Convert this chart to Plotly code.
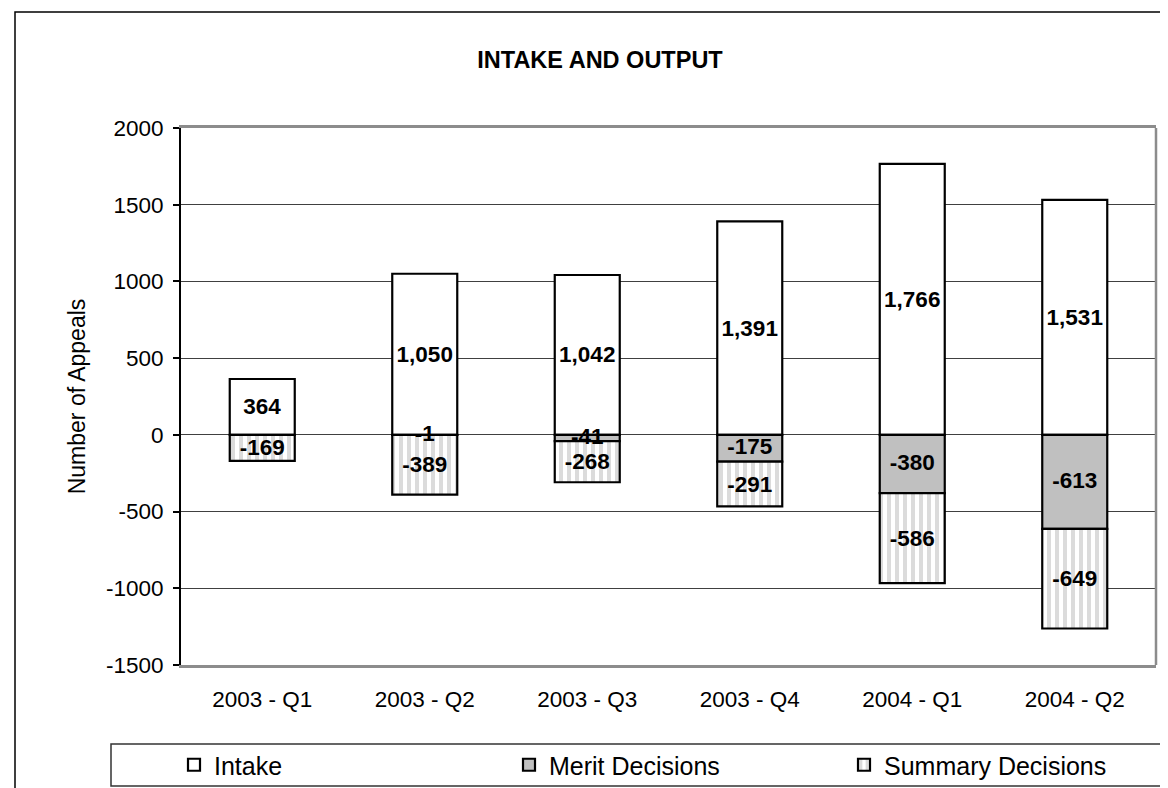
import plotly.graph_objects as go

categories = ["2003 - Q1", "2003 - Q2", "2003 - Q3", "2003 - Q4", "2004 - Q1", "2004 - Q2"]
intake = [364, 1050, 1042, 1391, 1766, 1531]
merit = [None, -1, -41, -175, -380, -613]
summary = [-169, -389, -268, -291, -586, -649]
y_ticks = [-1500, -1000, -500, 0, 500, 1000, 1500, 2000]

FONT = "Liberation Sans, Arial, sans-serif"
W, H = 1168, 788
PL, PR, PT, PB = 173, 1148, 120, 657


def fmt(vals):
    return ["" if v is None else f"{v:,}" for v in vals]


def px_x(x):
    return (x - PL) / (PR - PL)


def px_y(y):
    return (PB - y) / (PB - PT)


label_font = dict(family=FONT, size=22.5, color="black", weight="bold")
common = dict(
    textposition="inside",
    insidetextanchor="middle",
    textangle=0,
    constraintext="none",
    textfont=label_font,
    cliponaxis=False,
)

fig = go.Figure()
fig.add_trace(go.Bar(
    name="Intake", x=categories, y=intake, text=fmt(intake),
    marker=dict(color="white", line=dict(color="black", width=2.2)),
    **common,
))
fig.add_trace(go.Bar(
    name="Merit Decisions", x=categories, y=merit,
    marker=dict(color="#c0c0c0", line=dict(color="black", width=2.2)),
))
fig.add_trace(go.Bar(
    name="Summary Decisions", x=categories, y=summary, text=fmt(summary),
    marker=dict(
        color="white",
        line=dict(color="black", width=2.2),
        pattern=dict(shape="|", fgcolor="#b8b8b8", bgcolor="white", size=8, solidity=0.5),
    ),
    **common,
))
# merit labels drawn on top of everything (centred in each merit segment)
merit_mid = [None if v is None else v / 2 for v in merit]
fig.add_trace(go.Scatter(
    x=categories, y=merit_mid, text=fmt(merit), mode="text",
    textposition="middle center", textfont=label_font,
    showlegend=False, hoverinfo="skip", cliponaxis=False,
))

shapes = [
    # plot area right border (gray)
    dict(type="line", xref="paper", yref="paper", x0=1, x1=1, y0=0, y1=1,
         line=dict(color="#8c8c8c", width=2.5)),
    # outer chart border (only top and left visible)
    dict(type="rect", xref="paper", yref="paper",
         x0=px_x(7), x1=px_x(1200), y0=px_y(830), y1=px_y(4),
         line=dict(color="black", width=1.5)),
    # legend box
    dict(type="rect", xref="paper", yref="paper",
         x0=px_x(103), x1=px_x(1164), y0=px_y(778), y1=px_y(736),
         line=dict(color="#333333", width=1.5)),
]

fig.update_layout(
    width=W, height=H,
    margin=dict(l=PL, r=W - PR, t=PT, b=H - PB, autoexpand=False),
    paper_bgcolor="white", plot_bgcolor="white",
    barmode="relative", bargap=0.6,
    font=dict(family=FONT, size=22.5, color="black"),
    title=dict(text="<b>INTAKE AND OUTPUT</b>", x=592 / W, xanchor="center",
               y=1 - 52 / H, yanchor="middle", font=dict(size=23.5, family=FONT)),
    xaxis=dict(showline=True, linecolor="#8c8c8c", linewidth=2.5, mirror=True,
               ticks="", showgrid=False, tickfont=dict(size=22.5),
               ticklabelstandoff=12),
    yaxis=dict(range=[-1500, 2000], tickvals=y_ticks, ticktext=[str(v) for v in y_ticks],
               showline=True, linecolor="black", linewidth=2, ticks="outside",
               ticklen=6, tickcolor="black", tickwidth=1.5,
               showgrid=True, gridcolor="#404040", gridwidth=1, zeroline=False,
               tickfont=dict(size=22.5), ticklabelstandoff=5,
               title=dict(text="Number of Appeals", font=dict(size=23), standoff=14)),
    legend=dict(orientation="h", x=px_x(166), xanchor="left", y=px_y(757), yanchor="middle",
                bgcolor="rgba(0,0,0,0)", borderwidth=0, font=dict(size=25),
                entrywidth=290, entrywidthmode="pixels", traceorder="normal"),
    shapes=shapes,
    showlegend=True,
)

fig.write_html("out.html")
